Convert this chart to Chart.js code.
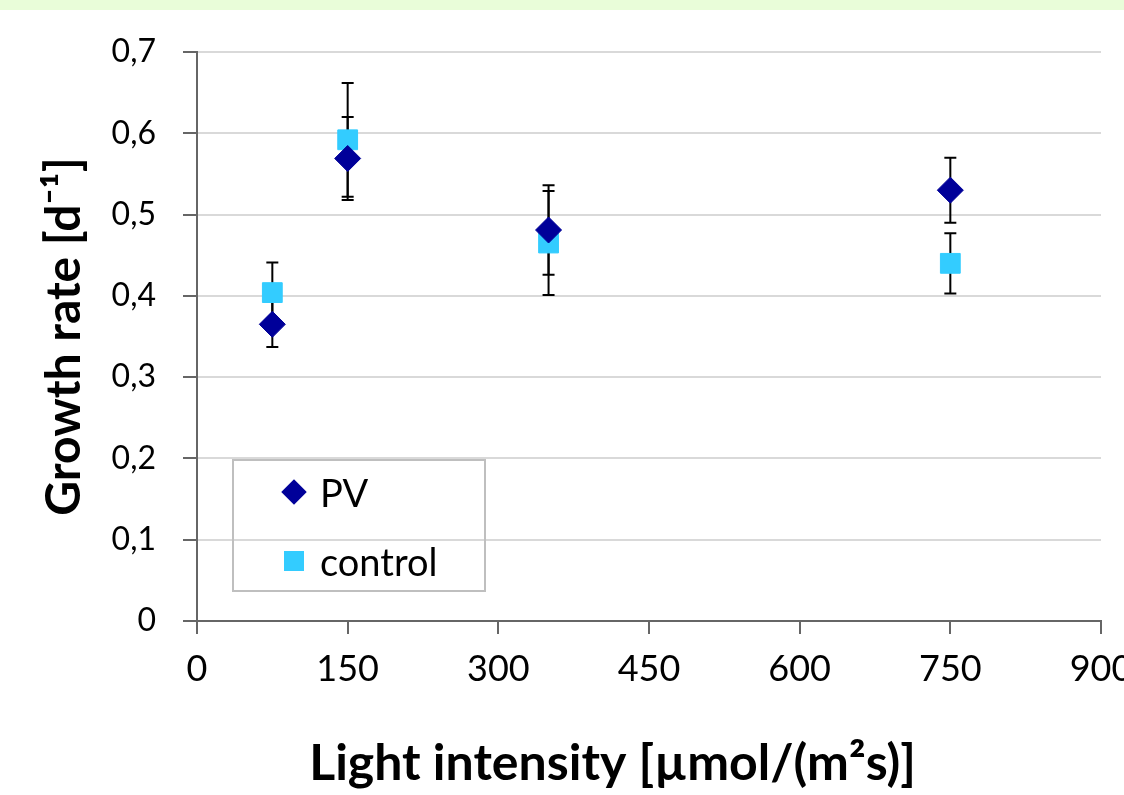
<!DOCTYPE html>
<html>
<head>
<meta charset="utf-8">
<script src="https://cdn.jsdelivr.net/npm/chart.js@4.4.1/dist/chart.umd.min.js"></script>
<style>
  html, body { margin: 0; padding: 0; background: #fff; overflow: hidden; }
  #wrap { position: absolute; left: 0; top: 0; width: 1180px; height: 795px; }
  #band { position: absolute; left: 0; top: 0; width: 1124px; height: 10px; background: #e9fdd9; z-index: 2; }
  #legend { position: absolute; left: 232px; top: 459px; width: 250px; height: 129px;
    border: 2px solid #bfbfbf; font-family: Lato, sans-serif; font-size: 38px; color: #000; z-index: 2; }
  .row { position: absolute; left: 0; height: 40px; line-height: 40px; }
  .row span { position: absolute; left: 86px; white-space: nowrap; }
  .mk { position: absolute; }
  .dia { width: 18px; height: 18px; background: #000099; transform: rotate(45deg); left: 51px; top: 11px; }
  .sq { width: 20px; height: 20px; background: #33ccff; left: 50px; top: 10px; }
</style>
</head>
<body>
<div id="band"></div>
<div id="wrap"><canvas id="growthChart"></canvas></div>
<div id="legend">
  <div class="row" style="top:11px"><div class="mk dia"></div><span>PV</span></div>
  <div class="row" style="top:80px"><div class="mk sq"></div><span>control</span></div>
</div>
<script>
// light intensity, µmol/(m²s)
const intensity = [75, 150, 350, 750];
// growth rate, 1/d, with error (+/-)
const pvRate = [0.365, 0.569, 0.481, 0.530];
const pvErr = [0.028, 0.051, 0.055, 0.040];
const controlRate = [0.404, 0.592, 0.465, 0.440];
const controlErr = [0.037, 0.070, 0.064, 0.037];

const yTicks = [0, 0.1, 0.2, 0.3, 0.4, 0.5, 0.6, 0.7];
const xTicks = [0, 150, 300, 450, 600, 750, 900];

const toPoints = (ys, errs) => ys.map((y, i) => ({ x: intensity[i], y: y, err: errs[i] }));

// error bars drawn below the markers
const errorBars = {
  id: 'errorBars',
  beforeDatasetsDraw(chart) {
    const ctx = chart.ctx, xs = chart.scales.x, ys = chart.scales.y;
    ctx.save();
    ctx.strokeStyle = '#000';
    ctx.lineWidth = 2;
    chart.data.datasets.forEach(ds => {
      ds.data.forEach(p => {
        const px = xs.getPixelForValue(p.x);
        const top = ys.getPixelForValue(p.y + p.err);
        const bot = ys.getPixelForValue(p.y - p.err);
        ctx.beginPath();
        ctx.moveTo(px, top); ctx.lineTo(px, bot);
        ctx.moveTo(px - 6, top); ctx.lineTo(px + 6, top);
        ctx.moveTo(px - 6, bot); ctx.lineTo(px + 6, bot);
        ctx.stroke();
      });
    });
    ctx.restore();
  }
};

new Chart(document.getElementById('growthChart'), {
  type: 'scatter',
  data: {
    datasets: [
      { label: 'PV', data: toPoints(pvRate, pvErr), pointStyle: 'rectRot', pointRadius: 13, pointHoverRadius: 13,
        backgroundColor: '#000099', borderColor: '#000099', borderWidth: 1 },
      { label: 'control', data: toPoints(controlRate, controlErr), pointStyle: 'rect', pointRadius: 14, pointHoverRadius: 14,
        backgroundColor: '#33ccff', borderColor: '#33ccff', borderWidth: 1 }
    ]
  },
  options: {
    responsive: true,
    maintainAspectRatio: false,
    animation: false,
    layout: { padding: { top: 52, right: 79, left: 0, bottom: 0 } },
    plugins: { legend: { display: false }, tooltip: { enabled: false } },
    scales: {
      x: {
        type: 'linear', min: 0, max: 900,
        afterFit: s => { s.height = 174; },
        afterBuildTicks: s => { s.ticks = xTicks.map(v => ({ value: v })); },
        ticks: { color: '#000', padding: 14, font: { family: 'Lato', size: 36 } },
        grid: { display: true, drawOnChartArea: false, color: '#666', lineWidth: 2, tickLength: 13 },
        border: { color: '#666', width: 2 },
        // trailing spaces nudge the centred title a little to the left, as in the original
        title: { display: true, text: 'Light intensity [µmol/(m²s)]      ', color: '#000',
          font: { family: 'Lato', size: 50, weight: 'bold' }, padding: { top: 0, bottom: 1 } }
      },
      y: {
        type: 'linear', min: 0, max: 0.7,
        afterFit: s => { s.width = 197; },
        afterBuildTicks: s => { s.ticks = yTicks.map(v => ({ value: v })); },
        ticks: { color: '#000', padding: 27, font: { family: 'Lato', size: 32 },
          callback: v => v === 0 ? '0' : v.toFixed(1).replace('.', ',') },
        grid: { color: ctx => ctx.tick && ctx.tick.value === 0 ? 'rgba(0,0,0,0)' : '#d9d9d9', lineWidth: 2, tickLength: 14,
          tickColor: '#666' },
        border: { color: '#666', width: 2 },
        title: { display: true, text: 'Growth rate [d⁻¹]', color: '#000',
          font: { family: 'Lato', size: 48, weight: 'bold' }, padding: { top: 36, bottom: 0 } }
      }
    }
  },
  plugins: [errorBars]
});
</script>
</body>
</html>
